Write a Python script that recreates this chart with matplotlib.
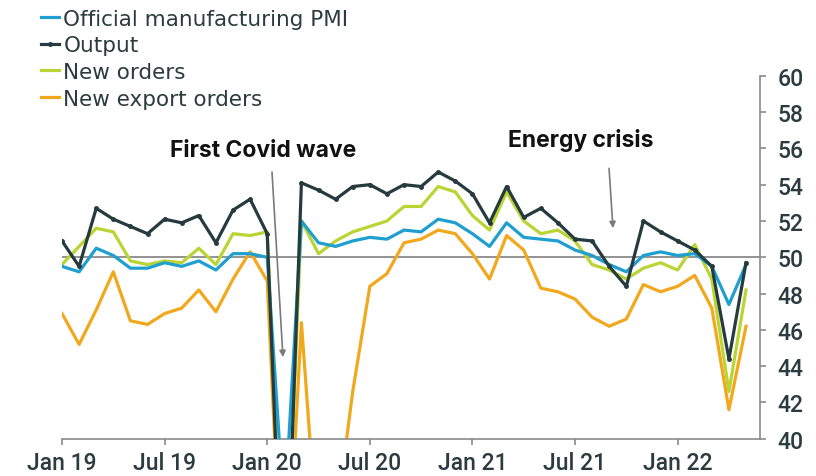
import numpy as np
import pandas as pd
import matplotlib.pyplot as plt

plt.rcParams['font.family'] = ['Inter', 'DejaVu Sans']

months = pd.date_range('2019-01-01', '2022-05-01', freq='MS')

pmi = [49.5, 49.2, 50.5, 50.1, 49.4, 49.4, 49.7, 49.5, 49.8, 49.3, 50.2, 50.2,
       50.0, 35.7, 52.0, 50.8, 50.6, 50.9, 51.1, 51.0, 51.5, 51.4, 52.1, 51.9,
       51.3, 50.6, 51.9, 51.1, 51.0, 50.9, 50.4, 50.1, 49.6, 49.2, 50.1, 50.3,
       50.1, 50.2, 49.5, 47.4, 49.6]
output = [50.9, 49.5, 52.7, 52.1, 51.7, 51.3, 52.1, 51.9, 52.3, 50.8, 52.6, 53.2,
          51.3, 27.8, 54.1, 53.7, 53.2, 53.9, 54.0, 53.5, 54.0, 53.9, 54.7, 54.2,
          53.5, 51.9, 53.9, 52.2, 52.7, 51.9, 51.0, 50.9, 49.5, 48.4, 52.0, 51.4,
          50.9, 50.4, 49.5, 44.4, 49.7]
new_orders = [49.6, 50.6, 51.6, 51.4, 49.8, 49.6, 49.8, 49.7, 50.5, 49.6, 51.3, 51.2,
              51.4, 29.3, 52.0, 50.2, 50.9, 51.4, 51.7, 52.0, 52.8, 52.8, 53.9, 53.6,
              52.3, 51.5, 53.6, 52.0, 51.3, 51.5, 50.9, 49.6, 49.3, 48.8, 49.4, 49.7,
              49.3, 50.7, 48.8, 42.6, 48.2]
export_orders = [46.9, 45.2, 47.1, 49.2, 46.5, 46.3, 46.9, 47.2, 48.2, 47.0, 48.8, 50.3,
                 48.7, 28.7, 46.4, 33.5, 35.3, 42.6, 48.4, 49.1, 50.8, 51.0, 51.5, 51.3,
                 50.2, 48.8, 51.2, 50.4, 48.3, 48.1, 47.7, 46.7, 46.2, 46.6, 48.5, 48.1,
                 48.4, 49.0, 47.2, 41.6, 46.2]

tick_labels = ['Jan 19', 'Jul 19', 'Jan 20', 'Jul 20', 'Jan 21', 'Jul 21', 'Jan 22']

text_col = '#2b3b40'
x = np.arange(len(months))

fig = plt.figure(figsize=(8.16, 4.77), dpi=100)
ax = fig.add_axes([0.076, 0.078, 0.855, 0.761])

ax.axhline(50, color='#8a8a8a', lw=1.3, zorder=1)
ax.plot(x, export_orders, color='#f2a81d', lw=2.3, label='New export orders', zorder=2)
ax.plot(x, new_orders, color='#b9d433', lw=2.3, label='New orders', zorder=3)
ax.plot(x, pmi, color='#1f9fd0', lw=2.3, label='Official manufacturing PMI', zorder=4)
ax.plot(x, output, color='#253b3f', lw=2.3, marker='o', ms=2.5, label='Output', zorder=5)

ax.set_xlim(0, 40.8)
ax.set_ylim(40, 60)

ax.yaxis.tick_right()
ax.set_yticks(np.arange(40, 61, 2))
ax.set_xticks(np.arange(0, 37, 6))
ax.set_xticklabels(tick_labels)

for s in ['top', 'left']:
    ax.spines[s].set_visible(False)
for s in ['bottom', 'right']:
    ax.spines[s].set_color('#8a8a8a')
    ax.spines[s].set_linewidth(1.2)

ax.tick_params(axis='both', colors='#8a8a8a', length=4, width=1.2,
               direction='out', labelcolor=text_col)
ax.tick_params(axis='x', pad=5)
ax.tick_params(axis='y', pad=9)
for lab in ax.get_xticklabels() + ax.get_yticklabels():
    lab.set_family(['Roboto', 'DejaVu Sans'])
    lab.set_fontsize(16.5)
    lab.set_fontweight('medium')

arrow = dict(arrowstyle='-|>', color='#7a7a7a', lw=1.2, mutation_scale=9,
             shrinkA=0, shrinkB=0)
ax.text(11.75, 55.9, 'First Covid wave', ha='center', va='center',
        fontsize=16.5, fontweight='bold', color='#111111')
ax.annotate('', xy=(12.92, 44.5), xytext=(12.28, 54.7), arrowprops=arrow)
ax.text(30.35, 56.5, 'Energy crisis', ha='center', va='center',
        fontsize=16.5, fontweight='bold', color='#111111')
ax.annotate('', xy=(32.22, 51.6), xytext=(31.99, 54.9), arrowprops=arrow)

handles, labels = ax.get_legend_handles_labels()
order = [2, 3, 1, 0]
leg = fig.legend([handles[i] for i in order], [labels[i] for i in order],
                 loc='upper left', bbox_to_anchor=(0.05, 0.98), frameon=False,
                 prop={'family': 'DejaVu Sans', 'size': 15.5},
                 handlelength=0.85, handletextpad=0.2,
                 labelspacing=0.31, borderaxespad=0, borderpad=0)
for t in leg.get_texts():
    t.set_color(text_col)

fig.savefig('out.png', dpi=100)
